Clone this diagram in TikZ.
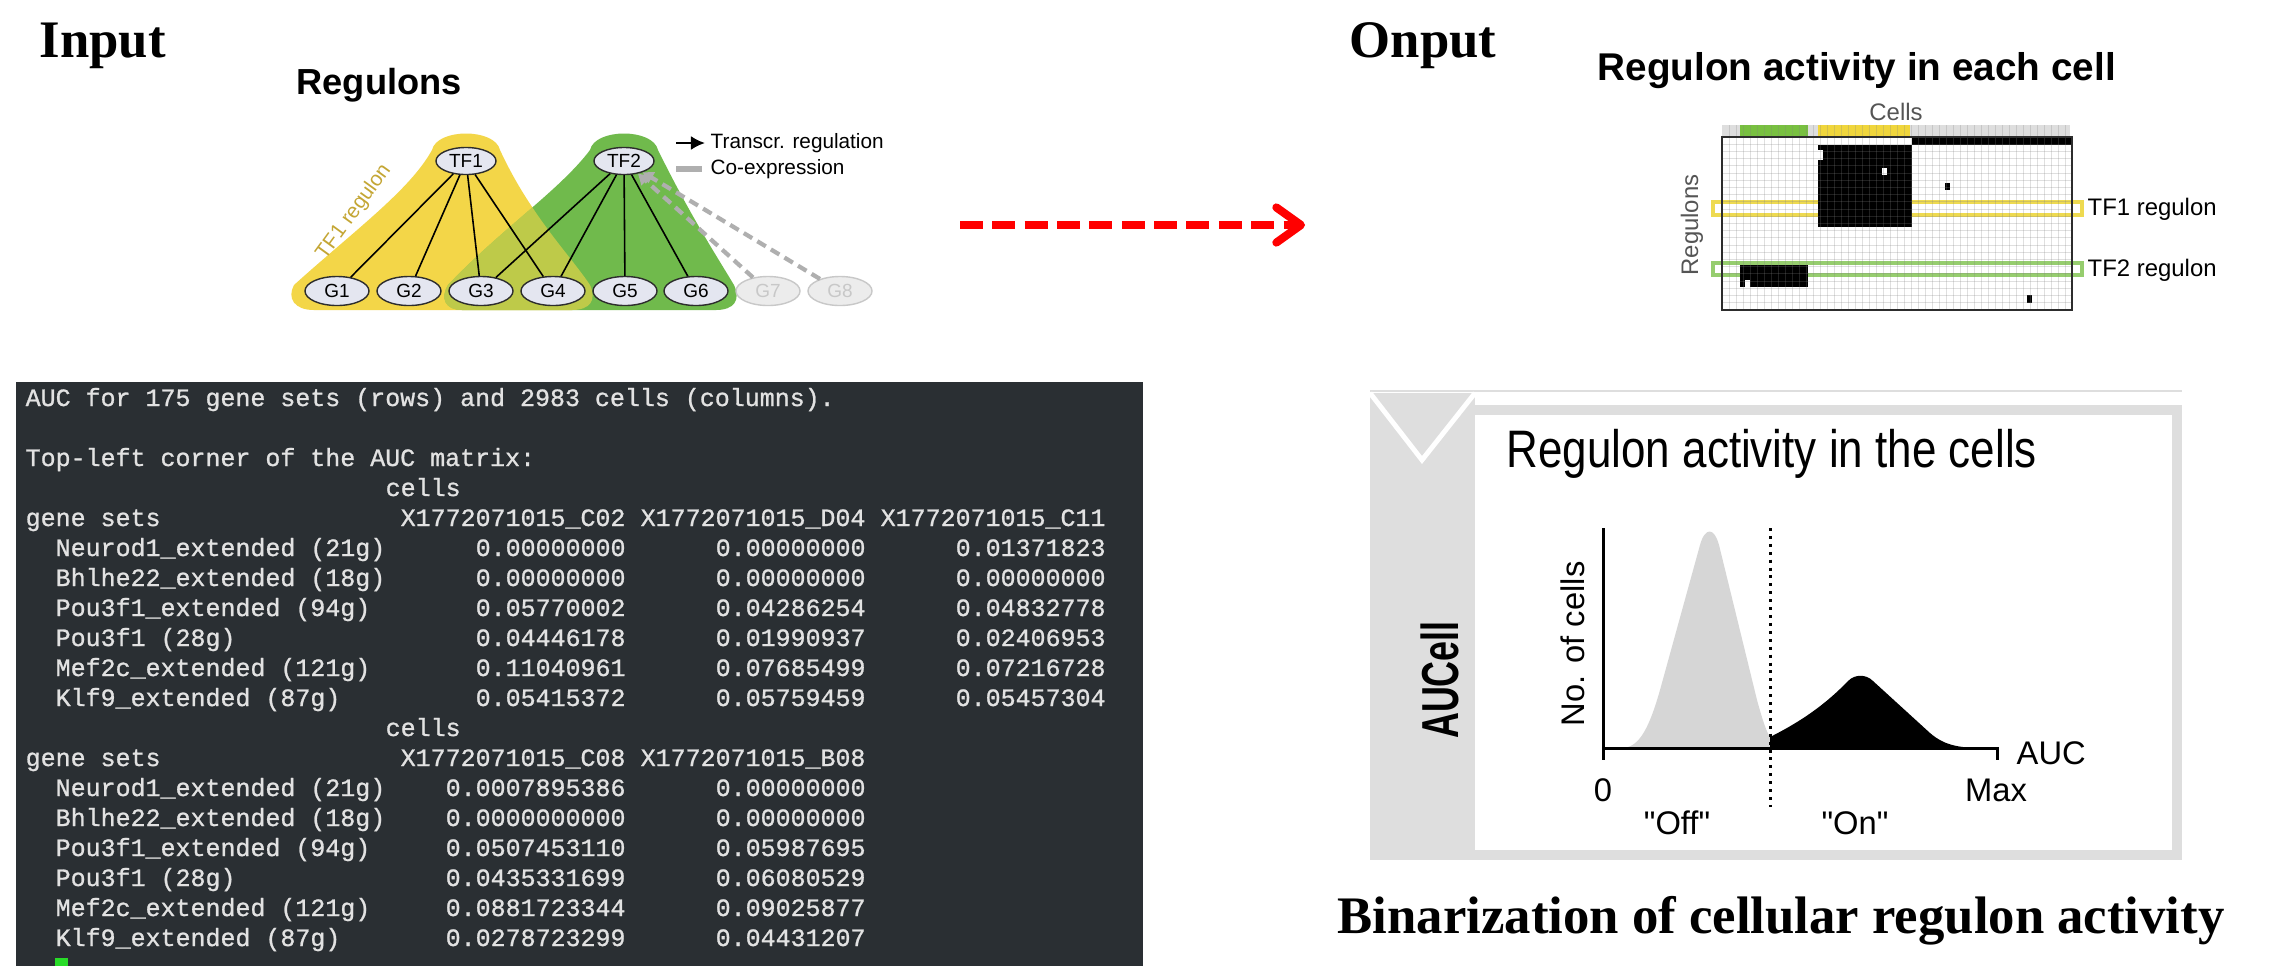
\documentclass[tikz,border=0pt]{standalone}
\usepackage{fontspec}
\setmainfont{Liberation Serif}
\setsansfont{Liberation Sans}
\newfontfamily\termfont[FakeBold=1]{Liberation Mono}
\usetikzlibrary{arrows.meta,positioning,shapes.geometric}
\definecolor{amarelo}{RGB}{243,214,72}
\definecolor{verde}{RGB}{112,186,76}
\definecolor{nofundo}{RGB}{228,230,240}
\definecolor{contorno}{RGB}{45,45,45}
\definecolor{apagado}{RGB}{200,200,200}
\definecolor{apagadofundo}{RGB}{236,236,236}
\definecolor{ouro}{RGB}{196,166,52}
\definecolor{cinzaseta}{RGB}{175,175,175}
\definecolor{vermelho}{RGB}{255,0,0}
\definecolor{terminal}{RGB}{42,47,51}
\definecolor{letra}{RGB}{226,226,226}
\definecolor{cursor}{RGB}{40,220,40}
\definecolor{painel}{RGB}{222,222,222}
\definecolor{pico}{RGB}{214,214,214}
\definecolor{amarelohm}{RGB}{238,218,80}
\definecolor{verdehm}{RGB}{150,205,110}
\definecolor{verdeanot}{RGB}{120,192,64}
\definecolor{amareloanot}{RGB}{240,214,60}
\definecolor{cinzaanot}{RGB}{222,222,222}
\definecolor{cinzatexto}{RGB}{85,85,85}
\tikzset{
  no/.style={ellipse,draw=contorno,fill=nofundo,line width=0.4pt,inner sep=0pt,
    minimum width=0.64cm,minimum height=0.29cm,font=\sffamily\fontsize{5.4}{6}\selectfont},
  notf/.style={no,minimum width=0.6cm,minimum height=0.27cm},
  noapagado/.style={no,draw=apagado,fill=apagadofundo,text=apagado},
  liga/.style={line width=0.45pt,black},
  coexp/.style={line width=1.2pt,cinzaseta,dash pattern=on 2.8pt off 1.7pt,
    -{Triangle[length=3pt,width=3.5pt]}},
  titulo/.style={font=\bfseries\fontsize{15}{18}\selectfont,anchor=base west,inner sep=0pt},
  rotulo/.style={font=\sffamily\fontsize{5.9}{7}\selectfont,inner sep=0pt},
  rotulohm/.style={font=\sffamily\fontsize{6.8}{8}\selectfont,inner sep=0pt},
  rotuloauc/.style={font=\sffamily\fontsize{9.3}{11}\selectfont,inner sep=0pt},
  linha/.style={font=\termfont\fontsize{7.1}{8}\selectfont,text=letra,anchor=base west,inner sep=0pt},
  eixo/.style={line width=0.85pt,black},
  setavermelha/.style={vermelho,line width=2.3pt,dash pattern=on 6.5pt off 2.7pt,
    -{Straight Barb[length=7pt,width=10pt,round]}},
  grade/.style={line width=0.25pt,gray,opacity=0.25}
}
\begin{document}
\begin{tikzpicture}[x=0.01cm,y=-0.01cm]
\useasboundingbox (0,0) rectangle (2269,966);
\fill[white] (0,0) rectangle (2269,966);

\node[titulo] (entrada) at (39,57) {Input};
\node[titulo] (saida) at (1349,57) {Onput};

% regulons
\node[font=\sffamily\bfseries\fontsize{10.3}{12}\selectfont,anchor=base west,inner sep=0pt] (regtit) at (296,94) {Regulons};
\def\areaverde{(590,150) .. controls (595,128) and (653,128) .. (658,150)
  .. controls (690,215) and (716,255) .. (734,285)
  .. controls (741,300) and (734,310) .. (716,310) -- (462,310)
  .. controls (445,310) and (440,298) .. (448,285)
  .. controls (500,230) and (560,190) .. (590,150) -- cycle}
\def\areaamarela{(432,150) .. controls (437,128) and (495,128) .. (500,150)
  .. controls (530,215) and (570,255) .. (590,285)
  .. controls (597,300) and (590,310) .. (572,310) -- (314,310)
  .. controls (294,310) and (287,298) .. (294,285)
  .. controls (355,230) and (410,190) .. (432,150) -- cycle}
\fill[amarelo] \areaamarela;
\fill[verde] \areaverde;
\begin{scope}
  \clip \areaverde;
  \fill[amarelo,opacity=0.6] \areaamarela;
\end{scope}
\node[rotulo,text=ouro,rotate=54] (tf1rot) at (354,212) {TF1 regulon};
\node[notf] (tf1) at (466,161) {TF1};
\node[notf] (tf2) at (624,161) {TF2};
\foreach \i/\x in {1/337,2/409,3/481,4/553,5/625,6/696}
  \node[no] (g\i) at (\x,291) {G\i};
\node[noapagado] (g7) at (768,291) {G7};
\node[noapagado] (g8) at (840,291) {G8};
\foreach \i in {1,...,4} \draw[liga] (tf1) -- (g\i);
\foreach \i in {3,...,6} \draw[liga] (tf2) -- (g\i);
\draw[coexp] (g7) -- (tf2);
\draw[coexp] (g8) -- (tf2);
\coordinate (legaini) at (676,143);
\coordinate (legafim) at (705,143);
\draw[-{Latex[length=4pt,width=4pt]},line width=0.7pt] (legaini) -- (legafim);
\node[rotulo,anchor=west] (legtr) at (710,143) {Transcr. regulation};
\coordinate (legbini) at (676,169);
\coordinate (legbfim) at (702,169);
\draw[cinzaseta,line width=1.5pt] (legbini) -- (legbfim);
\node[rotulo,anchor=west] (legco) at (710,169) {Co-expression};

% seta
\coordinate (setaini) at (960,225);
\coordinate (setafim) at (1305,225);
\draw[setavermelha] (setaini) -- (setafim);

% heatmap
\node[font=\sffamily\bfseries\fontsize{11}{13}\selectfont,anchor=base west,inner sep=0pt] (hmtit) at (1597,80) {Regulon activity in each cell};
\node[rotulohm,text=cinzatexto] (celulas) at (1896,112) {Cells};
\node[rotulohm,text=cinzatexto,rotate=90] (regulons) at (1692,225) {Regulons};
\fill[cinzaanot] (1722,125) rectangle (2070,137);
\fill[verdeanot] (1740,125) rectangle (1808,137);
\fill[amareloanot] (1818,125) rectangle (1910,137);
\draw[amarelohm,line width=0.9pt] (1713,202) rectangle (2082,215);
\draw[verdehm,line width=0.9pt] (1713,263) rectangle (2082,275);
\fill (1912,137) rectangle (2072,145);
\fill (1818,145) rectangle (1912,227);
\fill[white] (1818,150) rectangle (1823,160);
\fill[white] (1882,168) rectangle (1887,175);
\fill (1945,183) rectangle (1950,190);
\fill (1740,265) rectangle (1808,287);
\fill[white] (1745,280) rectangle (1750,287);
\fill (2027,295) rectangle (2032,303);
\foreach \i in {1,...,49}
  \draw[grade] ({1722+7*\i},125) -- ({1722+7*\i},310);
\foreach \j in {1,...,23}
  \draw[grade] (1722,{137+7.2*\j}) -- (2072,{137+7.2*\j});
\draw[contorno,line width=0.4pt] (1722,137) rectangle (2072,310);
\node[rotulohm,anchor=west] (tf1reg) at (2087,209) {TF1 regulon};
\node[rotulohm,anchor=west] (tf2reg) at (2087,270) {TF2 regulon};

% terminal
\fill[terminal] (16,382) rectangle (1143,966);
\foreach \k/\c/\txt in {
  0/0/{AUC for 175 gene sets (rows) and 2983 cells (columns).},
  2/0/{Top-left corner of the AUC matrix:},
  3/24/{cells},
  4/0/{gene sets}, 4/25/{X1772071015\_C02}, 4/41/{X1772071015\_D04}, 4/57/{X1772071015\_C11},
  5/2/{Neurod1\_extended (21g)}, 5/30/{0.00000000}, 5/46/{0.00000000}, 5/62/{0.01371823},
  6/2/{Bhlhe22\_extended (18g)}, 6/30/{0.00000000}, 6/46/{0.00000000}, 6/62/{0.00000000},
  7/2/{Pou3f1\_extended (94g)}, 7/30/{0.05770002}, 7/46/{0.04286254}, 7/62/{0.04832778},
  8/2/{Pou3f1 (28g)}, 8/30/{0.04446178}, 8/46/{0.01990937}, 8/62/{0.02406953},
  9/2/{Mef2c\_extended (121g)}, 9/30/{0.11040961}, 9/46/{0.07685499}, 9/62/{0.07216728},
  10/2/{Klf9\_extended (87g)}, 10/30/{0.05415372}, 10/46/{0.05759459}, 10/62/{0.05457304},
  11/24/{cells},
  12/0/{gene sets}, 12/25/{X1772071015\_C08}, 12/41/{X1772071015\_B08},
  13/2/{Neurod1\_extended (21g)}, 13/28/{0.0007895386}, 13/46/{0.00000000},
  14/2/{Bhlhe22\_extended (18g)}, 14/28/{0.0000000000}, 14/46/{0.00000000},
  15/2/{Pou3f1\_extended (94g)}, 15/28/{0.0507453110}, 15/46/{0.05987695},
  16/2/{Pou3f1 (28g)}, 16/28/{0.0435331699}, 16/46/{0.06080529},
  17/2/{Mef2c\_extended (121g)}, 17/28/{0.0881723344}, 17/46/{0.09025877},
  18/2/{Klf9\_extended (87g)}, 18/28/{0.0278723299}, 18/46/{0.04431207}}
  \node[linha] (lin\k-\c) at ({25+15*\c},{406+30*\k}) {\txt};
\fill[cursor] (55,958) rectangle (68,966);

% AUCell
\fill[painel] (1370,393) rectangle (1475,860);
\fill[painel] (1475,405) rectangle (2182,415);
\fill[painel] (2172,405) rectangle (2182,860);
\fill[painel] (1370,850) rectangle (2182,860);
\draw[painel,line width=0.6pt] (1370,391) -- (2182,391);
\draw[white,line width=1.4pt] (1370,393) -- (1422,460) -- (1475,393);
\node[font=\sffamily\bfseries\fontsize{10.2}{12}\selectfont,rotate=90] (aucell) at (1440,680) {\scalebox{1}[1.45]{AUCell}};
\node[font=\sffamily\fontsize{12.5}{15}\selectfont,anchor=base west,inner sep=0pt] (atvtit) at (1506,467) {\scalebox{1}[1.2]{Regulon activity in the cells}};
\fill[pico] (1622,748) .. controls (1640,748) and (1650,725) .. (1660,690)
  -- (1700,545) .. controls (1705,527) and (1714,527) .. (1719,545)
  -- (1757,700) .. controls (1763,722) and (1767,733) .. (1770,737)
  -- (1770,748) -- cycle;
\fill[black] (1770,748) -- (1770,737) .. controls (1800,722) and (1825,705) .. (1848,681)
  .. controls (1855,674) and (1866,674) .. (1873,681)
  -- (1930,733) .. controls (1945,746) and (1960,748) .. (1985,748) -- cycle;
\draw[eixo] (1603,528) -- (1603,760);
\draw[eixo] (1603,748) -- (1997,748) -- (1997,760);
\draw[line width=0.85pt,dash pattern=on 0.85pt off 1.4pt] (1770,528) -- (1770,807);
\node[rotuloauc,rotate=90] (ncel) at (1573,644) {No. of cells};
\node[rotuloauc] (zero) at (1603,790) {0};
\node[rotuloauc] (maximo) at (1996,790) {Max};
\node[rotuloauc,anchor=west] (auc) at (2016,753) {AUC};
\node[rotuloauc] (off) at (1677,823) {\textquotedbl Off\textquotedbl};
\node[rotuloauc] (on) at (1855,823) {\textquotedbl On\textquotedbl};
\node[titulo,anchor=base] (legenda) at (1781,933) {Binarization of cellular regulon activity};
\end{tikzpicture}
\end{document}
